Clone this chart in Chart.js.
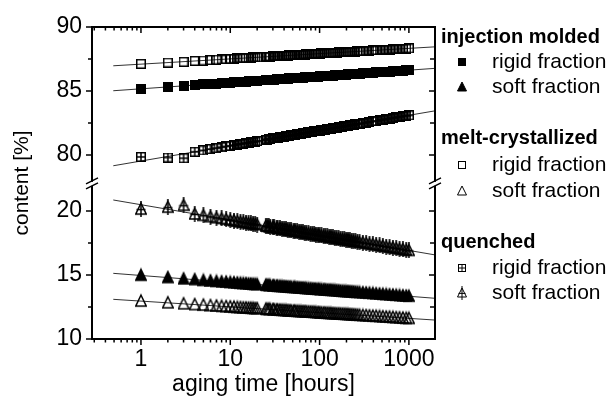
<!DOCTYPE html>
<html>
<head>
<meta charset="utf-8">
<script src="https://cdn.jsdelivr.net/npm/chart.js@4.4.1/dist/chart.umd.min.js"></script>
<style>
    body { margin: 0; background: #fff; }
    canvas { display: block; }
</style>
</head>
<body>
<canvas id="agingChart" width="606" height="405"></canvas>
<script>
// aging time in hours, shared by all six series
var hours = [1, 2, 3, 4, 5, 6, 7, 8, 9, 10, 11, 12, 13, 14, 15, 16, 17, 18, 19, 20,
    25, 26, 27, 28, 30, 31, 33, 34, 36, 38, 40, 42, 44, 46, 48, 51, 53, 56, 59, 62,
    65, 68, 71, 75, 79, 83, 87, 91, 96, 100, 105, 111, 116, 122, 128, 134, 141, 148, 155, 163,
    171, 180, 189, 198, 208, 218, 229, 240, 252, 265,
    280, 305, 332, 362, 395, 430, 469, 511, 557, 607, 662, 721, 786, 857, 934, 1000];

// injection molded
var imRigid = [85.15, 85.30, 85.40, 85.46, 85.51, 85.55, 85.58, 85.61, 85.63, 85.65, 85.67, 85.69, 85.71, 85.73, 85.74, 85.75, 85.77, 85.78, 85.79, 85.80,
    85.85, 85.86, 85.86, 85.87, 85.89, 85.89, 85.91, 85.91, 85.93, 85.94, 85.95, 85.96, 85.97, 85.98, 85.99, 86.00, 86.01, 86.02, 86.03, 86.04,
    86.05, 86.06, 86.07, 86.08, 86.09, 86.10, 86.11, 86.12, 86.13, 86.14, 86.15, 86.16, 86.17, 86.18, 86.19, 86.20, 86.21, 86.22, 86.23, 86.24,
    86.25, 86.26, 86.27, 86.28, 86.29, 86.30, 86.32, 86.32, 86.33, 86.35,
    86.36, 86.38, 86.39, 86.41, 86.43, 86.45, 86.47, 86.48, 86.50, 86.52, 86.54, 86.56, 86.57, 86.59, 86.61, 86.63];
var imSoft = [14.98, 14.80, 14.70, 14.64, 14.58, 14.54, 14.50, 14.47, 14.45, 14.42, 14.40, 14.38, 14.36, 14.34, 14.33, 14.31, 14.30, 14.28, 14.27, 14.26,
    14.21, 14.20, 14.19, 14.18, 14.16, 14.16, 14.14, 14.13, 14.12, 14.11, 14.10, 14.08, 14.07, 14.06, 14.05, 14.04, 14.03, 14.02, 14.00, 13.99,
    13.98, 13.97, 13.96, 13.95, 13.94, 13.92, 13.91, 13.90, 13.89, 13.88, 13.87, 13.86, 13.85, 13.83, 13.82, 13.81, 13.80, 13.79, 13.78, 13.77,
    13.75, 13.74, 13.73, 13.72, 13.71, 13.70, 13.69, 13.68, 13.66, 13.65,
    13.64, 13.62, 13.60, 13.58, 13.56, 13.54, 13.52, 13.50, 13.48, 13.46, 13.44, 13.42, 13.40, 13.38, 13.36, 13.34];

// melt-crystallized
var mcRigid = [87.12, 87.22, 87.28, 87.35, 87.38, 87.42, 87.45, 87.47, 87.49, 87.51, 87.53, 87.54, 87.56, 87.57, 87.58, 87.59, 87.61, 87.62, 87.62, 87.63,
    87.67, 87.68, 87.69, 87.69, 87.71, 87.71, 87.72, 87.73, 87.74, 87.75, 87.76, 87.77, 87.77, 87.78, 87.79, 87.80, 87.81, 87.82, 87.83, 87.83,
    87.84, 87.85, 87.86, 87.87, 87.88, 87.89, 87.90, 87.90, 87.91, 87.92, 87.93, 87.94, 87.95, 87.96, 87.96, 87.97, 87.98, 87.99, 88.00, 88.01,
    88.02, 88.02, 88.03, 88.04, 88.05, 88.06, 88.07, 88.08, 88.08, 88.09,
    88.10, 88.12, 88.13, 88.15, 88.17, 88.18, 88.20, 88.21, 88.23, 88.24, 88.26, 88.27, 88.29, 88.30, 88.32, 88.33];
var mcSoft = [12.96, 12.83, 12.75, 12.69, 12.65, 12.61, 12.58, 12.55, 12.53, 12.51, 12.49, 12.47, 12.46, 12.44, 12.43, 12.42, 12.41, 12.40, 12.38, 12.38,
    12.33, 12.32, 12.32, 12.31, 12.30, 12.29, 12.28, 12.27, 12.26, 12.25, 12.24, 12.23, 12.22, 12.21, 12.20, 12.19, 12.18, 12.17, 12.16, 12.15,
    12.14, 12.14, 12.13, 12.12, 12.11, 12.10, 12.09, 12.08, 12.07, 12.06, 12.05, 12.04, 12.03, 12.02, 12.01, 12.00, 11.99, 11.98, 11.97, 11.97,
    11.96, 11.95, 11.94, 11.93, 11.92, 11.91, 11.90, 11.89, 11.88, 11.87,
    11.86, 11.84, 11.83, 11.81, 11.79, 11.78, 11.76, 11.74, 11.72, 11.71, 11.69, 11.67, 11.66, 11.64, 11.62, 11.61];

// quenched
var qRigid = [79.85, 79.80, 79.75, 80.25, 80.36, 80.46, 80.54, 80.61, 80.67, 80.72, 80.77, 80.81, 80.86, 80.89, 80.93, 80.96, 80.99, 81.02, 81.05, 81.08,
    81.19, 81.21, 81.23, 81.25, 81.29, 81.30, 81.34, 81.35, 81.38, 81.41, 81.44, 81.46, 81.49, 81.51, 81.53, 81.56, 81.58, 81.61, 81.64, 81.66,
    81.69, 81.71, 81.73, 81.76, 81.79, 81.81, 81.84, 81.86, 81.89, 81.91, 81.94, 81.96, 81.99, 82.01, 82.04, 82.06, 82.09, 82.11, 82.14, 82.16,
    82.19, 82.21, 82.24, 82.26, 82.29, 82.31, 82.34, 82.36, 82.39, 82.41,
    82.44, 82.49, 82.53, 82.58, 82.62, 82.66, 82.71, 82.75, 82.80, 82.84, 82.89, 82.93, 82.98, 83.02, 83.06, 83.10];
var qSoft = [20.15, 20.30, 20.45, 19.77, 19.66, 19.56, 19.48, 19.42, 19.36, 19.30, 19.25, 19.21, 19.16, 19.13, 19.09, 19.06, 19.03, 19.00, 18.97, 18.94,
    18.83, 18.81, 18.79, 18.77, 18.73, 18.72, 18.68, 18.67, 18.64, 18.61, 18.58, 18.56, 18.54, 18.51, 18.49, 18.46, 18.44, 18.41, 18.38, 18.36,
    18.33, 18.31, 18.29, 18.26, 18.23, 18.21, 18.18, 18.16, 18.13, 18.11, 18.09, 18.06, 18.03, 18.01, 17.98, 17.96, 17.93, 17.91, 17.88, 17.86,
    17.83, 17.81, 17.78, 17.76, 17.73, 17.71, 17.68, 17.66, 17.63, 17.61,
    17.58, 17.53, 17.49, 17.45, 17.40, 17.36, 17.31, 17.27, 17.22, 17.18, 17.13, 17.09, 17.05, 17.00, 16.96, 16.92];

// fitted lines: values at the two ends
var fitHours = [0.49, 1960];
var fitMcRigid = [86.97, 88.45];
var fitImRigid = [85.02, 86.77];
var fitQRigid = [79.16, 83.45];
var fitQSoft = [20.86, 16.57];
var fitImSoft = [15.13, 13.18];
var fitMcSoft = [13.10, 11.48];

var yTicks = [10, 15, 20, 80, 85, 90];
var yMinor = [12.5, 17.5, 82.5, 87.5];
var xTicks = [1, 10, 100, 1000];

// broken y axis: the upper panel is moved down onto one linear scale
var SHIFT = 55.625;
var BREAK = 22.2;
function toAxis(v) { return v > 50 ? v - SHIFT : v; }
function fromAxis(v) { return v > BREAK ? v + SHIFT : v; }

function points(ys, xs) {
    xs = xs || hours;
    return ys.map(function (y, i) { return { x: xs[i], y: toAxis(y) }; });
}

function makeMarker(shape, filled, crossed, s, lw) {
    var c = document.createElement('canvas');
    var h = shape === 'square' ? s : s + 4;
    c.width = s;
    c.height = h;
    var g = c.getContext('2d');
    g.strokeStyle = '#000';
    g.fillStyle = '#000';
    g.lineWidth = lw;
    var m = s / 2;
    if (shape === 'square') {
        if (filled) g.fillRect(0, 0, s, s);
        else g.strokeRect(lw / 2, lw / 2, s - lw, s - lw);
        if (crossed) {
            g.beginPath();
            g.moveTo(m, 0); g.lineTo(m, s);
            g.moveTo(0, m); g.lineTo(s, m);
            g.stroke();
        }
    } else {
        var top = 2, base = s + 1;
        g.beginPath();
        g.moveTo(s / 2, top);
        g.lineTo(s - lw / 2, base);
        g.lineTo(lw / 2, base);
        g.closePath();
        if (filled) g.fill();
        g.stroke();
        if (crossed) {
            var hy = top + (base - top) * 0.6;
            g.beginPath();
            g.moveTo(m, 0); g.lineTo(m, h);
            g.moveTo(1.5, hy); g.lineTo(s - 1.5, hy);
            g.stroke();
        }
    }
    return c;
}

var mk = {
    imRigid: makeMarker('square', true, false, 10, 1.5),
    imSoft: makeMarker('triangle', true, false, 12, 1.5),
    mcRigid: makeMarker('square', false, false, 10, 1.5),
    mcSoft: makeMarker('triangle', false, false, 12, 1.5),
    qRigid: makeMarker('square', false, true, 10, 1.5),
    qSoft: makeMarker('triangle', false, true, 12, 1.5)
};
var legendMk = {
    imRigid: makeMarker('square', true, false, 8, 1),
    imSoft: makeMarker('triangle', true, false, 10, 1),
    mcRigid: makeMarker('square', false, false, 8, 1),
    mcSoft: makeMarker('triangle', false, false, 10, 1),
    qRigid: makeMarker('square', false, true, 8, 1),
    qSoft: makeMarker('triangle', false, true, 10, 1)
};

function scatterSet(name, values) {
    return {
        label: name,
        data: points(values),
        pointStyle: mk[name],
        showLine: false,
        order: 1
    };
}
function fitSet(values) {
    return {
        label: 'fit',
        data: points(values, fitHours),
        showLine: true,
        pointRadius: 0,
        borderColor: '#333',
        borderWidth: 1,
        order: 2
    };
}

// frame, tick marks, axis break and grouped legend
var framePlugin = {
    id: 'frame',
    afterDraw: function (chart) {
        var ctx = chart.ctx, a = chart.chartArea;
        var xs = chart.scales.x, ys = chart.scales.y;
        ctx.save();
        ctx.strokeStyle = '#000';
        ctx.lineWidth = 2;
        ctx.strokeRect(a.left, a.top, a.right - a.left, a.bottom - a.top);

        ctx.lineWidth = 1.5;
        ctx.beginPath();
        yTicks.forEach(function (v) {
            var y = ys.getPixelForValue(toAxis(v));
            ctx.moveTo(a.left - 6, y); ctx.lineTo(a.left, y);
            ctx.moveTo(a.right - 6, y); ctx.lineTo(a.right, y);
        });
        yMinor.forEach(function (v) {
            var y = ys.getPixelForValue(toAxis(v));
            ctx.moveTo(a.left - 4, y); ctx.lineTo(a.left, y);
            ctx.moveTo(a.right - 5, y); ctx.lineTo(a.right, y);
        });
        [0.1, 1, 10, 100, 1000].forEach(function (d) {
            for (var k = 1; k <= 9; k++) {
                var v = k * d;
                if (v < xs.min || v > xs.max) continue;
                var x = xs.getPixelForValue(v);
                var len = k === 1 ? 6 : 3.5;
                ctx.moveTo(x, a.bottom); ctx.lineTo(x, a.bottom + len);
                ctx.moveTo(x, a.top); ctx.lineTo(x, a.top + len);
            }
        });
        ctx.stroke();

        // axis break marks
        var yb = ys.getPixelForValue(BREAK);
        [a.left, a.right].forEach(function (x) {
            ctx.fillStyle = '#fff';
            ctx.fillRect(x - 2, yb - 1, 4, 4);
            ctx.strokeStyle = '#000';
            ctx.lineWidth = 1.5;
            ctx.beginPath();
            ctx.moveTo(x - 6, yb + 1); ctx.lineTo(x + 6, yb - 5);
            ctx.moveTo(x - 6, yb + 6); ctx.lineTo(x + 6, yb);
            ctx.stroke();
        });

        // legend
        var groups = [
            { title: 'injection molded', y: 37, items: [['imRigid', 'rigid fraction', 62], ['imSoft', 'soft fraction', 87]] },
            { title: 'melt-crystallized', y: 138, items: [['mcRigid', 'rigid fraction', 165], ['mcSoft', 'soft fraction', 191]] },
            { title: 'quenched', y: 242, items: [['qRigid', 'rigid fraction', 268], ['qSoft', 'soft fraction', 293]] }
        ];
        ctx.fillStyle = '#000';
        ctx.textBaseline = 'middle';
        ctx.textAlign = 'left';
        groups.forEach(function (gr) {
            ctx.font = 'bold 20px "Liberation Sans", Arial, sans-serif';
            ctx.fillText(gr.title, 441, gr.y);
            ctx.font = '21px "Liberation Sans", Arial, sans-serif';
            gr.items.forEach(function (it) {
                var img = legendMk[it[0]];
                ctx.drawImage(img, Math.round(462 - img.width / 2), Math.round(it[2] - img.height / 2));
                ctx.fillText(it[1], 492, it[2]);
            });
        });
        ctx.restore();
    }
};

var ctx = document.getElementById('agingChart').getContext('2d');
new Chart(ctx, {
    type: 'scatter',
    data: {
        datasets: [
            scatterSet('imRigid', imRigid),
            scatterSet('imSoft', imSoft),
            scatterSet('mcRigid', mcRigid),
            scatterSet('mcSoft', mcSoft),
            scatterSet('qRigid', qRigid),
            scatterSet('qSoft', qSoft),
            fitSet(fitMcRigid),
            fitSet(fitImRigid),
            fitSet(fitQRigid),
            fitSet(fitQSoft),
            fitSet(fitImSoft),
            fitSet(fitMcSoft)
        ]
    },
    options: {
        responsive: false,
        animation: false,
        devicePixelRatio: 1,
        layout: { padding: { left: 0, top: 27, right: 171, bottom: 0 } },
        plugins: { legend: { display: false }, tooltip: { enabled: false } },
        scales: {
            x: {
                type: 'logarithmic',
                min: 0.283,
                max: 1960,
                grid: { display: false, drawTicks: false },
                border: { display: false },
                afterBuildTicks: function (scale) {
                    scale.ticks = xTicks.map(function (v) { return { value: v }; });
                },
                afterFit: function (scale) { scale.height = 66; },
                ticks: {
                    autoSkip: false,
                    maxRotation: 0,
                    padding: 7,
                    color: '#000',
                    font: { family: '"Liberation Sans", Arial, sans-serif', size: 23 },
                    callback: function (v) { return String(v); }
                },
                title: {
                    display: true,
                    text: 'aging time [hours]',
                    color: '#000',
                    font: { family: '"Liberation Sans", Arial, sans-serif', size: 23 },
                    padding: { top: 0, bottom: 7 }
                }
            },
            y: {
                type: 'linear',
                min: 10,
                max: 34.375,
                grid: { display: false, drawTicks: false },
                border: { display: false },
                afterBuildTicks: function (scale) {
                    scale.ticks = yTicks.map(function (v) { return { value: toAxis(v) }; });
                },
                afterFit: function (scale) { scale.width = 92; },
                ticks: {
                    padding: 10,
                    color: '#000',
                    font: { family: '"Liberation Sans", Arial, sans-serif', size: 23 },
                    callback: function (v) { return String(Math.round(fromAxis(v))); }
                },
                title: {
                    display: true,
                    text: 'content [%]',
                    color: '#000',
                    font: { family: '"Liberation Sans", Arial, sans-serif', size: 21 },
                    padding: { top: 10, bottom: 0 }
                }
            }
        }
    },
    plugins: [framePlugin]
});
</script>
</body>
</html>
